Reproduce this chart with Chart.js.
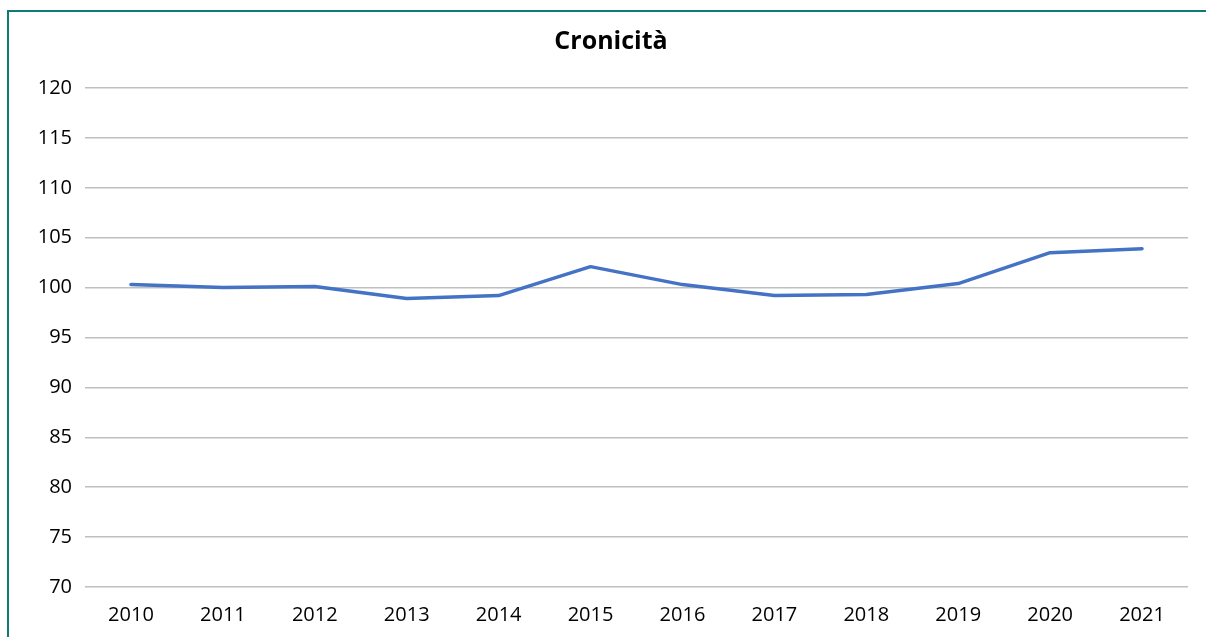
<!DOCTYPE html>
<html>
<head>
<meta charset="utf-8">
<script src="https://cdn.jsdelivr.net/npm/chart.js@4/dist/chart.umd.min.js"></script>
<style>
  html, body { margin: 0; padding: 0; background: #ffffff; }
  #wrap { position: relative; width: 1206px; height: 637px; overflow: hidden; }
  #frame { position: absolute; left: 7px; top: 10px; width: 1300px; height: 700px;
           border-left: 2.5px solid #0f7a73; border-top: 2.5px solid #0f7a73; box-sizing: border-box; }
  #c { position: absolute; left: 0; top: 0; }
</style>
</head>
<body>
<div id="wrap">
  <div id="frame"></div>
  <canvas id="c" width="1206" height="637"></canvas>
</div>
<script>
const title = "Cronicità";
const years = ["2010","2011","2012","2013","2014","2015","2016","2017","2018","2019","2020","2021"];
const values = [100.3, 100.0, 100.1, 98.9, 99.2, 102.1, 100.3, 99.2, 99.3, 100.4, 103.5, 103.9];
const yMin = 70, yMax = 120, yStep = 5;

const FONT = "'Open Sans', 'Noto Sans', sans-serif";

const titlePlugin = {
  id: 'customTitle',
  afterDraw(chart) {
    const ctx = chart.ctx;
    ctx.save();
    ctx.font = "bold 25px " + FONT;
    ctx.fillStyle = '#000000';
    ctx.textAlign = 'center';
    ctx.textBaseline = 'alphabetic';
    ctx.fillText(title, 611, 48.5);
    ctx.restore();
  }
};

new Chart(document.getElementById('c'), {
  type: 'line',
  data: {
    labels: years,
    datasets: [{
      data: values,
      borderColor: '#4472C4',
      borderWidth: 3.5,
      pointRadius: 0,
      tension: 0,
      fill: false,
      borderCapStyle: 'round',
      borderJoinStyle: 'round'
    }]
  },
  options: {
    responsive: false,
    animation: false,
    devicePixelRatio: 1,
    layout: { padding: { left: 0, right: 18, top: 88, bottom: 0 } },
    plugins: {
      legend: { display: false },
      tooltip: { enabled: false },
      title: { display: false }
    },
    scales: {
      x: {
        offset: true,
        grid: { display: false, drawTicks: false },
        border: { display: false },
        ticks: { color: '#000000', font: { family: FONT, size: 20 }, padding: 16, maxRotation: 0 },
        afterFit: (s) => { s.height = 50; }
      },
      y: {
        min: yMin, max: yMax,
        grid: { color: '#bfbfbf', lineWidth: 1.5, drawTicks: false },
        border: { display: false },
        ticks: { stepSize: yStep, color: '#000000', font: { family: FONT, size: 20 }, padding: 13 },
        afterFit: (s) => { s.width = 85; }
      }
    }
  },
  plugins: [titlePlugin]
});
</script>
</body>
</html>
